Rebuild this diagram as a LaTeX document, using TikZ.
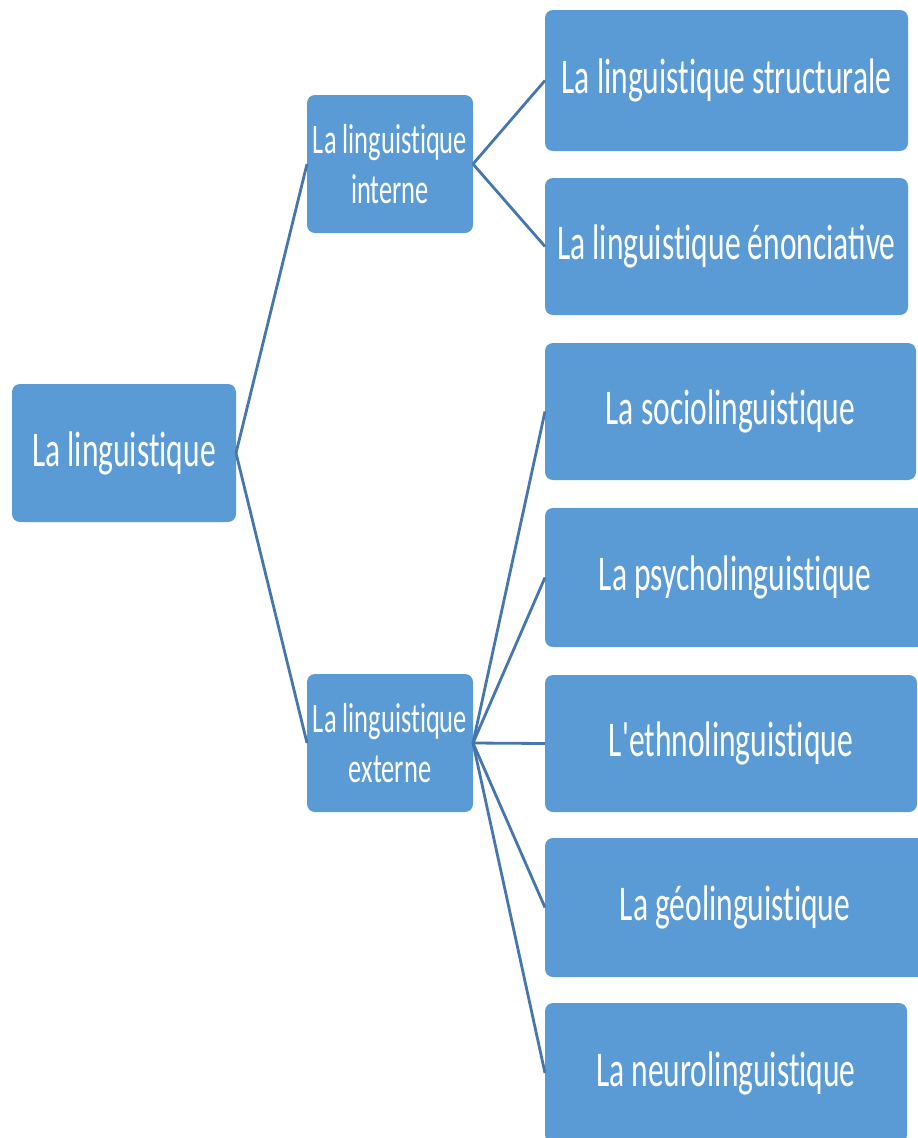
\documentclass[tikz,border=0pt]{standalone}
\usepackage{fontspec}
\newfontfamily\boxfont[FakeStretch=0.63]{Carlito}
% separate t and i so the font's "ti" ligature is not used
\newcommand\tiq{t\kern0pt ique}
\definecolor{boxfill}{HTML}{5B9BD5}
\definecolor{linkcol}{HTML}{4676AE}
\tikzset{
  box/.style={fill=boxfill, draw=none, rounded corners=8pt, inner sep=0pt, outer sep=0pt,
    text=white, align=center, anchor=center},
  bigtext/.style={font=\boxfont\fontsize{50}{58}\selectfont},
  midtext/.style={font=\boxfont\fontsize{42}{50}\selectfont},
  link/.style={draw=linkcol, line width=2.8pt}
}
\begin{document}
\begin{tikzpicture}[x=1pt, y=-1pt]
\useasboundingbox (0,0) rectangle (918,1138);
\fill[white] (0,0) rectangle (918,1138);
\clip (0,0) rectangle (918,1138);

% root
\node[box, bigtext, minimum width=224pt, minimum height=138pt] (root) at (124,453) {La linguis\tiq};

% second level
\node[box, midtext, minimum width=166pt, minimum height=138pt] (int) at (390,164) {La linguis\tiq\\interne};
\node[box, midtext, minimum width=166pt, minimum height=138pt] (ext) at (390,743) {La linguis\tiq\\externe};

% leaves
\node[box, bigtext, minimum width=363pt, minimum height=141pt] (struct) at (726.5,80.5) {La linguis\tiq{} structurale};
\node[box, bigtext, minimum width=363pt, minimum height=137pt] (enon) at (726.5,246.5) {La linguis\tiq{} énonciative};
\node[box, bigtext, minimum width=371pt, minimum height=137pt] (socio) at (730.5,411.5) {La sociolinguis\tiq};
\node[box, bigtext, minimum width=380pt, minimum height=139pt] (psycho) at (735,577.5) {La psycholinguis\tiq};
\node[box, bigtext, minimum width=372pt, minimum height=137pt] (ethno) at (731,743.5) {L'ethnolinguis\tiq};
\node[box, bigtext, minimum width=380pt, minimum height=139pt] (geo) at (735,907.5) {La géolinguis\tiq};
\node[box, bigtext, minimum width=362pt, minimum height=140pt] (neuro) at (726,1073) {La neurolinguis\tiq};

% connectors
\draw[link] (root.east) -- (int.west);
\draw[link] (root.east) -- (ext.west);
\draw[link] (int.east) -- (struct.west);
\draw[link] (int.east) -- (enon.west);
\foreach \leaf in {socio,psycho,ethno,geo,neuro}
  \draw[link] (ext.east) -- (\leaf.west);
\end{tikzpicture}
\end{document}
